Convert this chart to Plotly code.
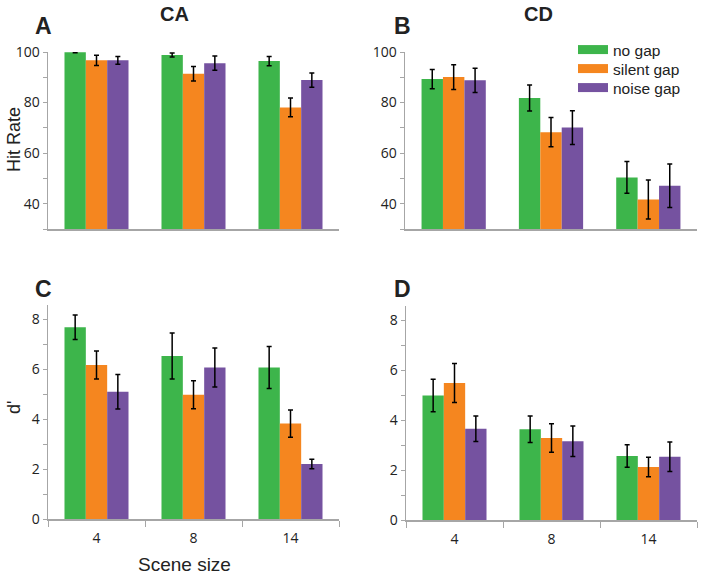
import plotly.graph_objects as go

W, H = 702, 576
categories = ["4", "8", "14"]
series = ["no gap", "silent gap", "noise gap"]
colors = ["#3DB54B", "#F5861F", "#7552A0"]

# Panel A: CA hit rate
ca_hit = [[99.9, 98.8, 96.4], [96.7, 91.4, 78.1], [96.7, 95.6, 88.9]]
ca_hit_err = [[0.2, 0.8, 1.8], [2.0, 2.9, 3.7], [1.5, 2.8, 2.8]]
# Panel B: CD hit rate
cd_hit = [[89.3, 81.8, 50.4], [90.1, 68.3, 41.7], [88.8, 70.1, 47.1]]
cd_hit_err = [[3.8, 5.1, 6.3], [4.9, 5.8, 7.7], [4.8, 6.7, 8.6]]
# Panel C: CA d'
ca_d = [[7.68, 6.53, 6.07], [6.17, 4.98, 3.82], [5.10, 6.07, 2.20]]
ca_d_err = [[0.49, 0.92, 0.84], [0.56, 0.56, 0.55], [0.69, 0.78, 0.19]]
# Panel D: CD d'
cd_d = [[4.99, 3.63, 2.56], [5.49, 3.28, 2.12], [3.65, 3.15, 2.53]]
cd_d_err = [[0.65, 0.53, 0.45], [0.78, 0.57, 0.39], [0.51, 0.61, 0.59]]

panels = [
    (ca_hit, ca_hit_err, "x", "y"),
    (cd_hit, cd_hit_err, "x2", "y2"),
    (ca_d, ca_d_err, "x3", "y3"),
    (cd_d, cd_d_err, "x4", "y4"),
]

fig = go.Figure()
for vals, errs, xa, ya in panels:
    for i in range(3):
        fig.add_trace(go.Bar(
            x=categories, y=vals[i], name=series[i], showlegend=False,
            marker=dict(color=colors[i], line=dict(width=0)),
            error_y=dict(type="data", array=errs[i], color="black", thickness=1.5, width=2.5),
            xaxis=xa, yaxis=ya, offsetgroup=str(i),
        ))

# legend entries with wide swatches, one legend per row for exact spacing
legend_names = ["legend", "legend2", "legend3"]
for i in range(3):
    fig.add_trace(go.Scatter(x=[None], y=[None], mode="lines", name=series[i],
                             line=dict(color=colors[i], width=9), xaxis="x2", yaxis="y2",
                             legend=legend_names[i]))

def fx(px):
    return px / W

def fy(py):
    return 1 - py / H

def px_dom(a, b):
    return [fx(a), fx(b)]

def py_dom(top, bottom):
    return [fy(bottom), fy(top)]

axis_col = "#A6A6A6"
tickfont = dict(family="Open Sans, Liberation Sans, sans-serif", size=14, color="#222")

def xaxis(dom, anchor, labels):
    d = dict(domain=dom, anchor=anchor, type="category", range=[-0.5, 2.5],
             showline=True, linecolor=axis_col, linewidth=1.5, showgrid=False,
             zeroline=False, fixedrange=True, automargin=False)
    if labels:
        d.update(ticks="outside", tickson="boundaries", ticklen=6, tickcolor=axis_col,
                 tickwidth=1, showticklabels=True, tickfont=tickfont, ticklabelstandoff=6)
    else:
        d.update(ticks="", showticklabels=False)
    return d

def yaxis(dom, anchor, rng, dtick, mdtick):
    return dict(domain=dom, anchor=anchor, range=rng, dtick=dtick, tick0=0,
                showline=True, linecolor=axis_col, linewidth=1.5, showgrid=False,
                zeroline=False, ticks="outside", ticklen=4, tickcolor=axis_col, tickwidth=1,
                minor=dict(dtick=mdtick, ticks="outside", ticklen=4, tickcolor=axis_col, showgrid=False),
                tickfont=tickfont, fixedrange=True, automargin=False)

legfont = dict(family="Liberation Sans, Arial, sans-serif", size=15.5, color="#222")

def leg(row_y):
    return dict(x=fx(573), y=fy(row_y), xanchor="left", yanchor="middle",
                bgcolor="rgba(0,0,0,0)", font=legfont, itemwidth=30,
                borderwidth=0)

fig.update_layout(
    template="none",
    width=W, height=H, margin=dict(l=0, r=0, t=0, b=0, autoexpand=False),
    paper_bgcolor="white", plot_bgcolor="white",
    barmode="group", bargap=0.34, bargroupgap=0,
    xaxis=xaxis(px_dom(48, 339), "y", False),
    yaxis=yaxis(py_dom(52, 229), "x", [30, 100], 20, 10),
    xaxis2=xaxis(px_dom(405, 697), "y2", False),
    yaxis2=yaxis(py_dom(52, 229), "x2", [30, 100], 20, 10),
    xaxis3=xaxis(px_dom(48, 339), "y3", True),
    yaxis3=yaxis(py_dom(305, 519), "x3", [0, 8.57], 2, 1),
    xaxis4=xaxis(px_dom(406, 697), "y4", True),
    yaxis4=yaxis(py_dom(306, 520), "x4", [0, 8.57], 2, 1),
    legend=leg(50),
    legend2=leg(69),
    legend3=leg(88),
    showlegend=True,
)

def ann(text, x, y, size, bold=False, angle=0, family="Liberation Sans, Arial, sans-serif"):
    fig.add_annotation(text=f"<b>{text}</b>" if bold else text, x=fx(x), y=fy(y),
                       xref="paper", yref="paper", showarrow=False, textangle=angle,
                       font=dict(size=size, family=family, color="#222"),
                       xanchor="center", yanchor="middle")

ann("CA", 174, 14, 20, bold=True)
ann("CD", 538, 14, 20, bold=True)
ann("A", 43, 26, 23, bold=True)
ann("B", 402, 26, 23, bold=True)
ann("C", 43, 289, 23, bold=True)
ann("D", 402, 289, 23, bold=True)
ann("Hit Rate", 14, 140, 18, angle=-90)
ann("d'", 14, 408, 18, angle=-90)
ann("Scene size", 184, 564, 19)

# remove the browser's default 8px page margin so the figure fills the window
fig.write_html("out.html", config={"displayModeBar": False, "staticPlot": True},
               post_script="document.body.style.margin='0px';")
